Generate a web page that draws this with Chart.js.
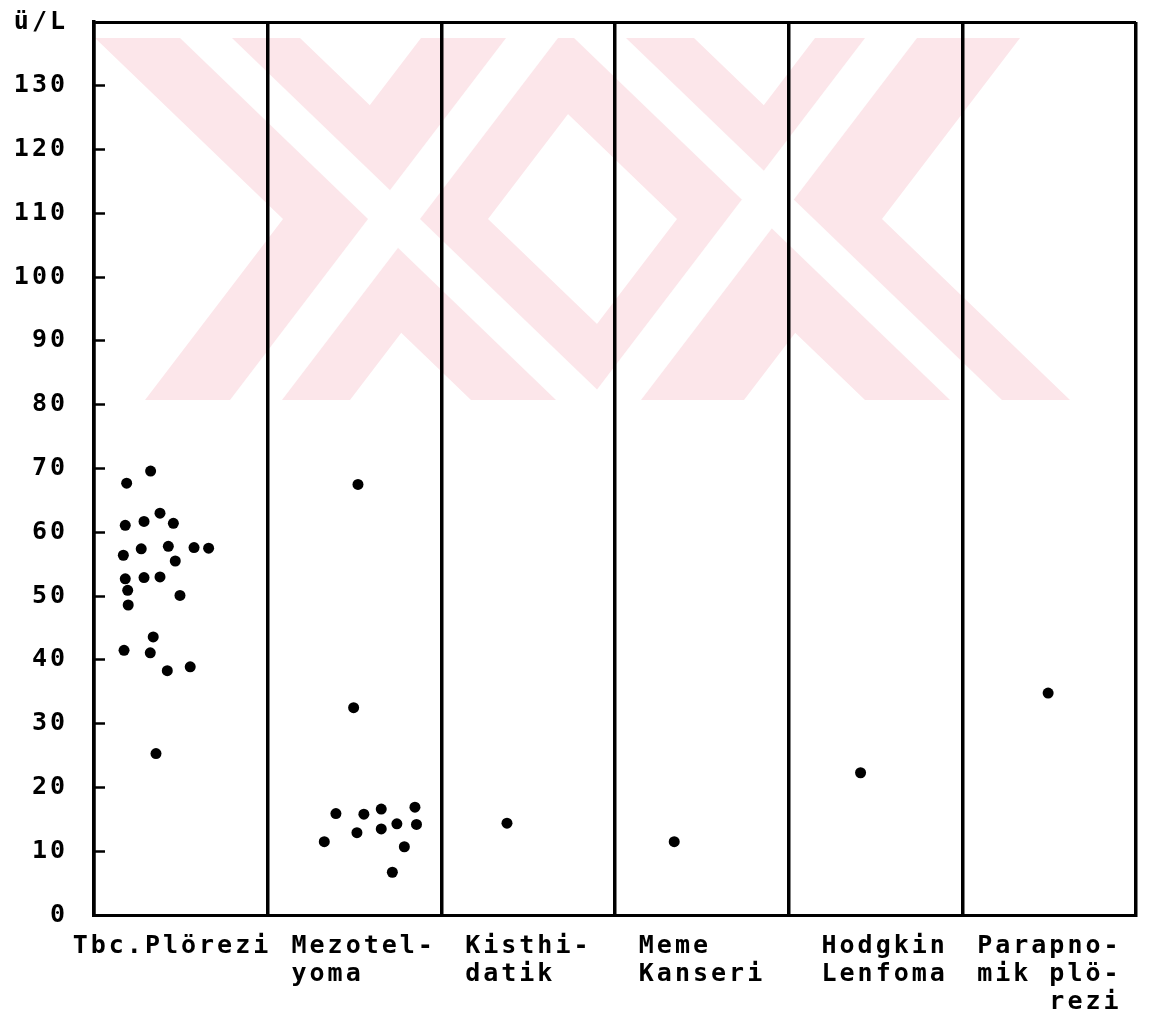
<!DOCTYPE html>
<html>
<head>
<meta charset="utf-8">
<script src="https://cdn.jsdelivr.net/npm/chart.js@4.4.1/dist/chart.umd.min.js"></script>
<style>
  html, body { margin: 0; padding: 0; background: #fff; }
  #wrap { width: 1154px; height: 1019px; }
</style>
</head>
<body>
<div id="wrap"><canvas id="enzChart"></canvas></div>
<script>
// kategori etiketleri (satir satir, monospace icin bosluklarla hizali)
const categories = [
  ["Tbc.Plörezi "],
  [" Mezotel-", " yoma    "],
  ["Kisthi-", "datik  "],
  ["Meme   ", "Kanseri"],
  [" Hodgkin", " Lenfoma"],
  ["Parapno-", "mik plö-", "    rezi"],
];
const yUnit = "ü/L";
const yMax = 140;

// degerler (U/L) ve sutun icindeki yatay konum (0-1)
const tbcValues = [69.6, 67.7, 63.0, 61.1, 61.7, 61.4, 57.4, 57.8, 57.6, 57.5, 56.4, 55.5,
  52.7, 52.9, 53.0, 50.9, 50.1, 48.6, 43.6, 41.5, 41.1, 38.3, 38.9, 25.3];
const tbcPos = [0.326, 0.188, 0.380, 0.180, 0.288, 0.457, 0.272, 0.428, 0.576, 0.660, 0.169, 0.468,
  0.180, 0.288, 0.380, 0.194, 0.495, 0.197, 0.341, 0.173, 0.324, 0.422, 0.554, 0.357];

const mezValues = [67.5, 32.5, 15.9, 15.8, 16.6, 16.9, 12.9, 13.5, 14.3, 14.2, 11.5, 10.7, 6.7];
const mezPos = [0.520, 0.495, 0.393, 0.554, 0.654, 0.848, 0.514, 0.654, 0.744, 0.857, 0.326, 0.787, 0.718];

const kistValues = [14.4];
const kistPos = [0.378];
const memeValues = [11.5];
const memePos = [0.341];
const hodgValues = [22.3];
const hodgPos = [0.414];
const paraValues = [34.8];
const paraPos = [0.494];

function toPoints(col, values, pos) {
  return values.map((v, i) => ({ x: col + pos[i], y: v }));
}

const points = [].concat(
  toPoints(0, tbcValues, tbcPos),
  toPoints(1, mezValues, mezPos),
  toPoints(2, kistValues, kistPos),
  toPoints(3, memeValues, memePos),
  toPoints(4, hodgValues, hodgPos),
  toPoints(5, paraValues, paraPos)
);

const tickFont = { family: "'DejaVu Sans Mono', monospace", size: 25, weight: "bold", lineHeight: 1.12 };

// harf araligi (eski yazici ciktisi gibi genis)
const spacingPlugin = {
  id: "spacing",
  beforeLayout(chart) { chart.ctx.letterSpacing = "3px"; },
  beforeDraw(chart) { chart.ctx.letterSpacing = "3px"; },
};

// soluk pembe filigran (taramadaki)
const watermarkPlugin = {
  id: "watermark",
  beforeDraw(chart) {
    const ctx = chart.ctx;
    const y0 = 38, y1 = 400;
    const down = 376, up = -276; // "\" ve "/" seritlerin egimi
    const band = (xt, w, d) => {
      ctx.beginPath();
      ctx.moveTo(xt, y0);
      ctx.lineTo(xt + w, y0);
      ctx.lineTo(xt + w + d, y1);
      ctx.lineTo(xt + d, y1);
      ctx.closePath();
      ctx.fill();
    };
    ctx.save();
    ctx.beginPath();
    ctx.rect(95, y0, 1154 - 95, y1 - y0);
    ctx.clip();
    ctx.fillStyle = "#fce6ea";
    band(95, 205, down);
    band(421, 205, up);
    band(489, 205, down);
    band(815, 205, up);
    ctx.fillStyle = "#ffffff";
    band(180, 52, down);
    band(506, 52, up);
    band(574, 52, down);
    band(865, 52, up);
    ctx.restore();
  },
};

const data = {
  datasets: [
    {
      data: points,
      backgroundColor: "#000",
      borderColor: "#000",
      borderWidth: 0,
      pointRadius: 5.5,
      pointHoverRadius: 5.5,
    },
  ],
};

const config = {
  type: "scatter",
  data: data,
  options: {
    responsive: true,
    maintainAspectRatio: false,
    animation: false,
    events: [],
    plugins: {
      legend: { display: false },
      tooltip: { enabled: false },
    },
    layout: {
      padding: { top: 22, right: 18, left: 0, bottom: 0 },
    },
    scales: {
      x: {
        type: "linear",
        min: 0,
        max: categories.length,
        afterFit: (scale) => {
          scale.height = 104;
          scale.paddingLeft = 0;
          scale.paddingRight = 0;
        },
        grid: { color: "#000", lineWidth: 3.5, drawTicks: false },
        border: { color: "#000", width: 3 },
        ticks: {
          stepSize: 1,
          autoSkip: false,
          maxRotation: 0,
          minRotation: 0,
          labelOffset: 87,
          padding: 17,
          color: "#000",
          font: tickFont,
          callback: (v) => categories[v] || "",
        },
      },
      y: {
        min: 0,
        max: yMax,
        afterFit: (scale) => {
          scale.width = 94;
          scale.paddingTop = 0;
          scale.paddingBottom = 0;
        },
        grid: {
          drawOnChartArea: true,
          color: (c) => (c.tick && c.tick.value === yMax ? "#000" : "rgba(0,0,0,0)"),
          lineWidth: 3,
          tickLength: -11,
          tickColor: "#000",
          tickWidth: 2.5,
        },
        border: { color: "#000", width: 3.5 },
        ticks: {
          stepSize: 10,
          padding: 37,
          color: "#000",
          font: tickFont,
          callback: (v) => (v === yMax ? yUnit : v),
        },
      },
    },
  },
  plugins: [spacingPlugin, watermarkPlugin],
};

new Chart(document.getElementById("enzChart"), config);
</script>
</body>
</html>
